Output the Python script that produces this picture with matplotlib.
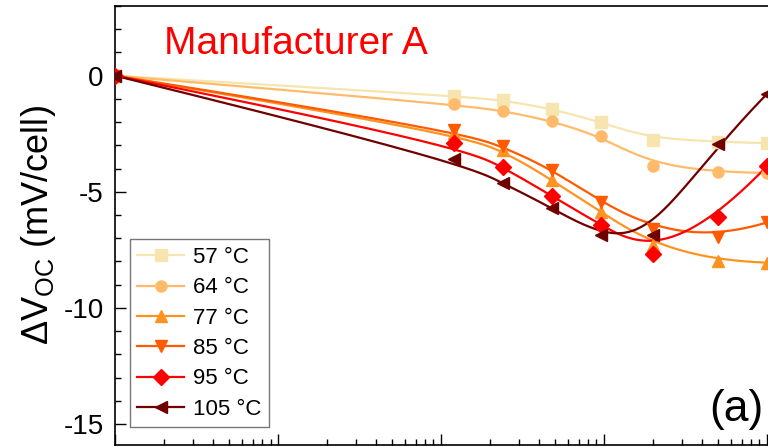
import numpy as np
import matplotlib
matplotlib.use("Agg")
import matplotlib.pyplot as plt
from matplotlib.ticker import LogLocator, MultipleLocator, NullFormatter

plt.rcParams['font.family'] = ['Liberation Sans', 'DejaVu Sans']
plt.rcParams['mathtext.fontset'] = 'custom'
plt.rcParams['mathtext.rm'] = 'Liberation Sans'
plt.rcParams['mathtext.it'] = 'Liberation Sans'
plt.rcParams['axes.unicode_minus'] = False

# Temps de vieillissement (h)
temps = [0.1, 12, 24, 48, 96, 200, 500, 1000]

# Variation de Voc (mV/cellule) par température
dv_57 = [0, -0.86, -1.05, -1.43, -2.0, -2.76, -2.84, -2.91]
dv_64 = [0, -1.23, -1.5, -1.96, -2.61, -3.88, -4.15, -4.19]
dv_77 = [0, -2.45, -3.2, -4.5, -5.87, -7.3, -7.97, -8.05]
dv_85 = [0, -2.33, -3.04, -4.05, -5.42, -6.6, -6.95, -6.32]
dv_95 = [0, -2.92, -3.92, -5.19, -6.43, -7.66, -6.08, -3.9]
dv_105 = [0, -3.6, -4.62, -5.7, -6.88, -6.88, -2.95, -0.79]

temperatures = ["57 °C", "64 °C", "77 °C", "85 °C", "95 °C", "105 °C"]
couleurs = ["#F7E5B0", "#FFBB6A", "#FF9322", "#FF5A00", "#FF0000", "#700000"]
marqueurs = ["s", "o", "^", "v", "D", "<"]
series = [dv_57, dv_64, dv_77, dv_85, dv_95, dv_105]


def bspline(px, py, n=400, k=3):
    # B-spline cubique serrée passant par les extrémités
    ctrl = np.column_stack([px, py])
    m = len(ctrl)
    nint = m - k
    knots = np.concatenate([np.zeros(k), np.arange(nint + 1), np.full(k, nint)]).astype(float)
    u = np.linspace(0, nint, n)
    u[-1] -= 1e-9
    # Cox - de Boor
    N = np.zeros((n, len(knots) - 1))
    for i in range(len(knots) - 1):
        N[:, i] = (u >= knots[i]) & (u < knots[i + 1])
    for d in range(1, k + 1):
        Nn = np.zeros((n, len(knots) - 1 - d))
        for i in range(len(knots) - 1 - d):
            a = knots[i + d] - knots[i]
            b = knots[i + d + 1] - knots[i + 1]
            t1 = (u - knots[i]) / a * N[:, i] if a > 0 else 0
            t2 = (knots[i + d + 1] - u) / b * N[:, i + 1] if b > 0 else 0
            Nn[:, i] = t1 + t2
        N = Nn
    pts = N @ ctrl
    return pts[:, 0], pts[:, 1]


fig = plt.figure(figsize=(7.68, 4.47), dpi=100)
ax = fig.add_axes([0.1497, 0.0045, 0.9128, 0.9821])

lx = np.log10(temps)
for dv, lab, c, mk in zip(series, temperatures, couleurs, marqueurs):
    cx, cy = bspline(lx, dv)
    ax.plot(10 ** cx, cy, color=c, lw=1.6, zorder=2)
    ax.plot(temps, dv, linestyle='none', marker=mk, color=c, ms=8, mec=c, zorder=3)
    ax.plot([], [], color=c, lw=1.6, marker=mk, ms=8, label=lab)

ax.set_xscale('log')
ax.set_xlim(0.1, 2000)
ax.set_ylim(-15.9, 3)

ax.yaxis.set_major_locator(MultipleLocator(5))
ax.yaxis.set_minor_locator(MultipleLocator(1))
ax.xaxis.set_major_locator(LogLocator(base=10))
ax.xaxis.set_minor_locator(LogLocator(base=10, subs=np.arange(2, 10)))
ax.xaxis.set_minor_formatter(NullFormatter())

ax.tick_params(axis='both', which='major', direction='in', length=8, width=1, labelsize=20)
ax.tick_params(axis='both', which='minor', direction='in', length=4.5, width=1)
ax.tick_params(axis='x', labelbottom=False)
ax.tick_params(axis='y', right=False, pad=8)
for s in ax.spines.values():
    s.set_linewidth(1.2)

ax.set_ylabel(r"$\Delta$V$_{\mathrm{OC}}$ (mV/cell)", fontsize=26, labelpad=4)

ax.text(0.07, 0.955, "Manufacturer A", transform=ax.transAxes, color="#FF0000",
        fontsize=28, va='top', ha='left')
ax.text(0.848, 0.035, "(a)", transform=ax.transAxes, color="black",
        fontsize=32, va='bottom', ha='left')

leg = ax.legend(loc='lower left', bbox_to_anchor=(0.021, 0.04), fontsize=16,
                frameon=True, fancybox=False, edgecolor='#555555',
                handlelength=2.1, handletextpad=0.4, labelspacing=0.42,
                borderpad=0.35, borderaxespad=0)
leg.get_frame().set_linewidth(1)

fig.savefig("out.png", dpi=100)
